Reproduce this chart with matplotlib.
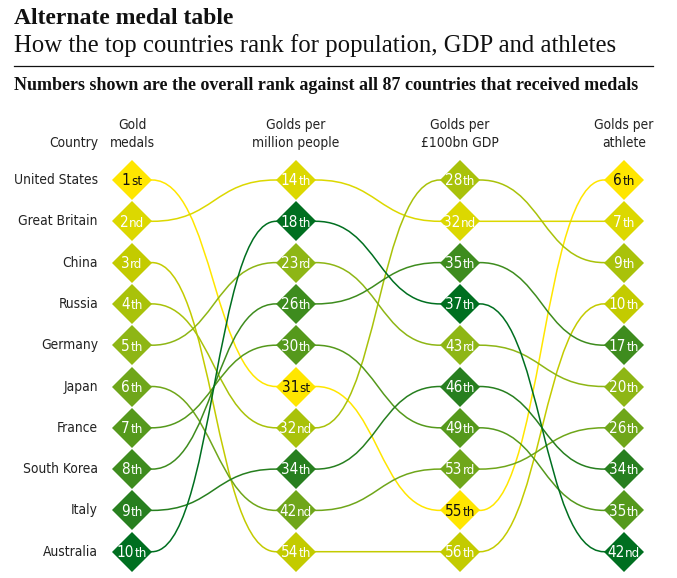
import matplotlib
matplotlib.use("Agg")
import matplotlib.pyplot as plt
from matplotlib.path import Path
from matplotlib.patches import PathPatch
from matplotlib.offsetbox import TextArea, HPacker, AnnotationBbox
from matplotlib import font_manager as fm

# ---------------- data ----------------
countries = ["United States", "Great Britain", "China", "Russia", "Germany",
             "Japan", "France", "South Korea", "Italy", "Australia"]
gold_rank = [1, 2, 3, 4, 5, 6, 7, 8, 9, 10]
per_million_rank = [31, 14, 54, 32, 23, 42, 30, 26, 34, 18]
per_gdp_rank = [55, 32, 56, 28, 43, 53, 49, 35, 46, 37]
per_athlete_rank = [6, 7, 10, 9, 20, 26, 35, 17, 34, 42]
column_titles = ["Gold\nmedals", "Golds per\nmillion people",
                 "Golds per\n£100bn GDP", "Golds per\nathlete"]
country_colors = ["#FFE600", "#DCD800", "#C3CB00", "#A9C20A", "#8EB615",
                  "#6FA61A", "#55991C", "#3E8C1E", "#277F1F", "#006F20"]

columns = [gold_rank, per_million_rank, per_gdp_rank, per_athlete_rank]

# ---------------- layout ----------------
W, H = 677, 578
COL0, COLSTEP = 132, 164
ROW0, ROWSTEP = 180, 41.3
DIAG_PX = 40

# pick a condensed sans if available
cond = [f for f in fm.fontManager.ttflist
        if ("Condensed" in f.fname or "Narrow" in f.fname) and "Bold" not in f.fname
        and "Oblique" not in f.fname and "Italic" not in f.fname]
COND_FILE = None
for pref in ["DejaVuSansCondensed.ttf", "LiberationSansNarrow-Regular", "Condensed"]:
    for f in cond:
        if pref in f.fname:
            COND_FILE = f.fname
            break
    if COND_FILE:
        break


def sans(size):
    if COND_FILE:
        return fm.FontProperties(fname=COND_FILE, size=size)
    return fm.FontProperties(family="DejaVu Sans", size=size)


SERIF = ["Liberation Serif", "DejaVu Serif"]

fig = plt.figure(figsize=(W / 100, H / 100), dpi=100)
fig.patch.set_facecolor("white")
ax = fig.add_axes([0, 0, 1, 1])
ax.set_xlim(-COL0 / COLSTEP, (W - COL0) / COLSTEP)
ax.set_ylim((H - ROW0) / ROWSTEP, -ROW0 / ROWSTEP)
ax.axis("off")


def fx(px):
    return px / W


def fy(py):
    return 1 - py / H


def suffix(n):
    if 10 <= n % 100 <= 20:
        return "th"
    return {1: "st", 2: "nd", 3: "rd"}.get(n % 10, "th")


positions = []
for col in columns:
    order = sorted(range(len(col)), key=lambda i: col[i])
    pos = [0] * len(col)
    for r, i in enumerate(order):
        pos[i] = r
    positions.append(pos)

half = (DIAG_PX / 2) / COLSTEP

for c in range(len(columns) - 1):
    for i in range(len(countries)):
        y0 = positions[c][i]
        y1 = positions[c + 1][i]
        x0 = c + half
        x1 = c + 1 - half
        dx = x1 - x0
        verts = [(c, y0), (x0, y0), (x0 + 0.5 * dx, y0), (x1 - 0.5 * dx, y1),
                 (x1, y1), (c + 1, y1)]
        codes = [Path.MOVETO, Path.LINETO, Path.CURVE4, Path.CURVE4,
                 Path.CURVE4, Path.LINETO]
        ax.add_patch(PathPatch(Path(verts, codes), facecolor="none",
                               edgecolor=country_colors[i], lw=1.1,
                               zorder=1, capstyle="butt"))

ms = DIAG_PX * 72 / (100 * 2 ** 0.5)
for c, col in enumerate(columns):
    for i in range(len(countries)):
        y = positions[c][i]
        ax.plot([c], [y], marker="D", ms=ms, mew=0,
                color=country_colors[i], zorder=3, linestyle="none")
        tcol = "#111111" if i == 0 else "white"
        n = col[i]
        ta1 = TextArea(str(n), textprops=dict(color=tcol, fontproperties=sans(11)))
        ta2 = TextArea(suffix(n), textprops=dict(color=tcol, fontproperties=sans(9.5)))
        box = HPacker(children=[ta1, ta2], align="baseline", pad=0, sep=0.3)
        ab = AnnotationBbox(box, (c, y + 0.02), frameon=False,
                            box_alignment=(0.5, 0.5), pad=0, zorder=4)
        ax.add_artist(ab)

for i, name in enumerate(countries):
    ax.text(-(COL0 - 98) / COLSTEP, positions[0][i], name, ha="right",
            va="center", color="#222222", fontproperties=sans(9.9))

for c, t in enumerate(column_titles):
    ax.text(c, -(ROW0 - 134) / ROWSTEP, t, ha="center", va="center",
            color="#222222", fontproperties=sans(9.9), linespacing=1.4)
ax.text(-(COL0 - 98) / COLSTEP, -(ROW0 - 143) / ROWSTEP, "Country",
        ha="right", va="center", color="#222222", fontproperties=sans(9.9))

fig.text(fx(14), fy(24), "Alternate medal table", ha="left", va="baseline",
         fontsize=17, fontweight="bold", family=SERIF, color="#111111")
fig.text(fx(14), fy(52), "How the top countries rank for population, GDP and athletes",
         ha="left", va="baseline", fontsize=17.8, family=SERIF, color="#111111")
fig.add_artist(plt.Line2D([fx(14), fx(653)], [fy(66), fy(66)],
                          color="#111111", lw=0.9))
fig.text(fx(14), fy(90),
         "Numbers shown are the overall rank against all 87 countries that received medals",
         ha="left", va="baseline", fontsize=13, fontweight="bold",
         family=SERIF, color="#111111")

fig.savefig("out.png", dpi=100, facecolor="white")
